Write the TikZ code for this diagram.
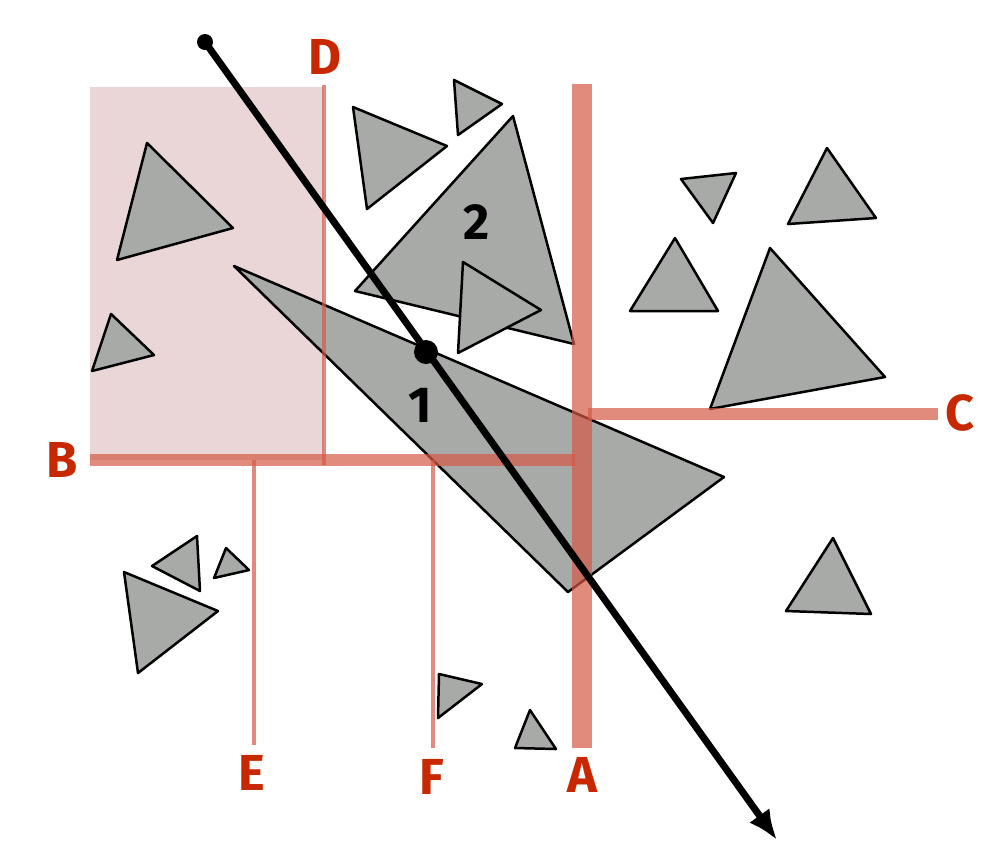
\documentclass[tikz,border=0pt]{standalone}
\usepackage{fontspec}
\setmainfont{Fira Sans}
\usetikzlibrary{arrows.meta}
\definecolor{lblred}{RGB}{200,40,0}
\definecolor{splitred}{RGB}{212,90,70}
\definecolor{trigray}{RGB}{168,170,168}
\definecolor{cellpink}{RGB}{234,214,214}
\tikzset{
tri/.style={fill=trigray,draw=black,line width=0.25mm,line join=round},
split/.style={draw=splitred,draw opacity=0.7},
lbl/.style={text=lblred,font=\bfseries\Large},
num/.style={font=\bfseries\Large}
}
\begin{document}
\begin{tikzpicture}[x=0.1mm,y=-0.1mm]
\useasboundingbox (0,0) rectangle (986,864);
\fill[cellpink] (90,87) rectangle (324,460);
% triangles
\foreach \a/\b/\c in {
 {(234,266)}/{(724,477)}/{(568,592)},
 {(355,291)}/{(513,116)}/{(574,344)},
 {(353,107)}/{(447,146)}/{(367,209)},
 {(454,80)}/{(502,104)}/{(458,135)},
 {(147,143)}/{(233,228)}/{(117,260)},
 {(111,314)}/{(154,355)}/{(92,371)},
 {(463,262)}/{(541,310)}/{(458,353)},
 {(681,179)}/{(736,173)}/{(713,223)},
 {(827,148)}/{(876,218)}/{(788,224)},
 {(675,238)}/{(718,311)}/{(630,311)},
 {(770,248)}/{(885,377)}/{(710,409)},
 {(833,538)}/{(871,614)}/{(786,611)},
 {(152,566)}/{(197,536)}/{(200,591)},
 {(226,548)}/{(249,570)}/{(214,578)},
 {(124,572)}/{(218,611)}/{(138,673)},
 {(439,674)}/{(482,684)}/{(438,718)},
 {(530,710)}/{(556,749)}/{(515,748)}} {
\draw[tri] \a -- \b -- \c -- cycle;
}
\node[num] (one) at (420,405) {1};
\node[num] (two) at (477,222) {2};
% split planes
\draw[split,line width=2mm] (582,84) -- (582,748);
\draw[split,line width=1.2mm] (90,460) -- (575,460);
\draw[split,line width=1.2mm] (588,414) -- (938,414);
\draw[split,line width=0.45mm] (324,85) -- (324,465);
\draw[split,line width=0.45mm] (254,460) -- (254,745);
\draw[split,line width=0.45mm] (433,460) -- (433,748);
\node[lbl] (A) at (582,775) {A};
\node[lbl] (B) at (62,460) {B};
\node[lbl] (C) at (960,413) {C};
\node[lbl] (D) at (325,57) {D};
\node[lbl] (E) at (252,773) {E};
\node[lbl] (F) at (432,777) {F};
% ray
\coordinate (orig) at (205,42);
\coordinate (hit) at (426,352);
\coordinate (tip) at (777,840);
\draw[line width=0.7mm,-{Latex[length=3mm,width=2.5mm]}] (orig) -- (tip);
\fill (orig) circle[radius=8];
\fill (hit) circle[radius=12];
\end{tikzpicture}
\end{document}
